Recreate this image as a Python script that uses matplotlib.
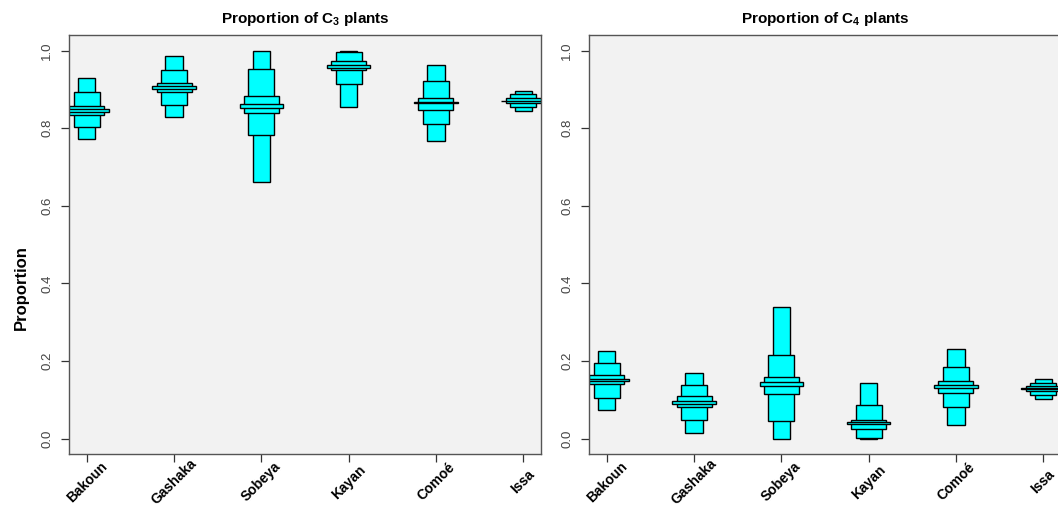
import matplotlib
matplotlib.use("Agg")
import matplotlib.pyplot as plt
from matplotlib.patches import Rectangle

plt.rcParams["font.family"] = ["Liberation Sans", "DejaVu Sans"]
plt.rcParams["mathtext.fontset"] = "custom"
plt.rcParams["mathtext.rm"] = "Liberation Sans:bold"
plt.rcParams["mathtext.default"] = "rm"

SITES = ["Bakoun", "Gashaka", "Sobeya", "Kayan", "Comoé", "Issa"]

# C3 proportion: outer / middle / inner credible boxes and the mode band
c3_outer_lo = [0.773, 0.828, 0.661, 0.854, 0.767, 0.845]
c3_outer_hi = [0.928, 0.985, 1.000, 0.999, 0.963, 0.896]
c3_mid_lo   = [0.803, 0.860, 0.782, 0.914, 0.811, 0.854]
c3_mid_hi   = [0.893, 0.950, 0.953, 0.997, 0.921, 0.888]
c3_inner_lo = [0.834, 0.892, 0.840, 0.950, 0.847, 0.865]
c3_inner_hi = [0.856, 0.917, 0.883, 0.974, 0.879, 0.877]
c3_mode_lo  = [0.842, 0.902, 0.853, 0.955, 0.865, 0.869]
c3_mode_hi  = [0.849, 0.909, 0.862, 0.964, 0.867, 0.871]

# C4 proportion
c4_outer_lo = [0.074, 0.015, 0.000, 0.000, 0.036, 0.102]
c4_outer_hi = [0.227, 0.169, 0.339, 0.143, 0.232, 0.155]
c4_mid_lo   = [0.105, 0.049, 0.046, 0.001, 0.081, 0.113]
c4_mid_hi   = [0.195, 0.139, 0.216, 0.087, 0.186, 0.143]
c4_inner_lo = [0.142, 0.081, 0.115, 0.025, 0.119, 0.122]
c4_inner_hi = [0.164, 0.109, 0.158, 0.049, 0.149, 0.135]
c4_mode_lo  = [0.150, 0.090, 0.136, 0.038, 0.132, 0.128]
c4_mode_hi  = [0.155, 0.097, 0.146, 0.042, 0.139, 0.130]

BOX_WIDTHS = [0.2, 0.3, 0.4, 0.5]
FILL = "#00FFFF"
BG = "#F2F2F2"
FRAME = "#555555"

W, H = 1058, 508


def draw_panel(ax, levels, title):
    ax.set_facecolor(BG)
    for (lo, hi), w in zip(levels, BOX_WIDTHS):
        for i, (a, b) in enumerate(zip(lo, hi)):
            ax.add_patch(Rectangle((i + 1 - w / 2, a), w, b - a,
                                   facecolor=FILL, edgecolor="black",
                                   linewidth=1.0, zorder=2))
    ax.set_xlim(0.8, 6.2)
    ax.set_ylim(-0.04, 1.04)
    ax.set_xticks(range(1, len(SITES) + 1))
    # labels are centred on a point below each tick, like R's text(srt=45)
    ax.set_xticklabels(SITES, rotation=45, ha="center", va="center",
                       fontweight="bold", fontsize=10)
    ax.set_yticks([0.0, 0.2, 0.4, 0.6, 0.8, 1.0])
    ax.set_yticklabels(["0.0", "0.2", "0.4", "0.6", "0.8", "1.0"],
                       rotation=90, va="center", fontsize=9.5, color="#444444")
    ax.tick_params(axis="both", length=5.5, width=0.9, color="#333333")
    ax.tick_params(axis="y", pad=6)
    ax.tick_params(axis="x", pad=14.5)
    for s in ax.spines.values():
        s.set_color(FRAME)
        s.set_linewidth(1.0)
    ax.set_title(title, fontsize=11, fontweight="bold", pad=8.5)


fig = plt.figure(figsize=(W / 100, H / 100), dpi=100)
ax1 = fig.add_axes([69.3 / W, 53.7 / H, 471.4 / W, 419.3 / H])
ax2 = fig.add_axes([589.3 / W, 53.7 / H, 471.4 / W, 419.3 / H])

draw_panel(ax1, [(c3_outer_lo, c3_outer_hi), (c3_mid_lo, c3_mid_hi),
                 (c3_inner_lo, c3_inner_hi), (c3_mode_lo, c3_mode_hi)],
           "Proportion of C$_3$ plants")
draw_panel(ax2, [(c4_outer_lo, c4_outer_hi), (c4_mid_lo, c4_mid_hi),
                 (c4_inner_lo, c4_inner_hi), (c4_mode_lo, c4_mode_hi)],
           "Proportion of C$_4$ plants")

fig.text(21 / W, 1 - 288 / H, "Proportion", rotation=90, ha="center",
         va="center", fontsize=12, fontweight="bold")

fig.savefig("out.png", dpi=100, facecolor="white")
